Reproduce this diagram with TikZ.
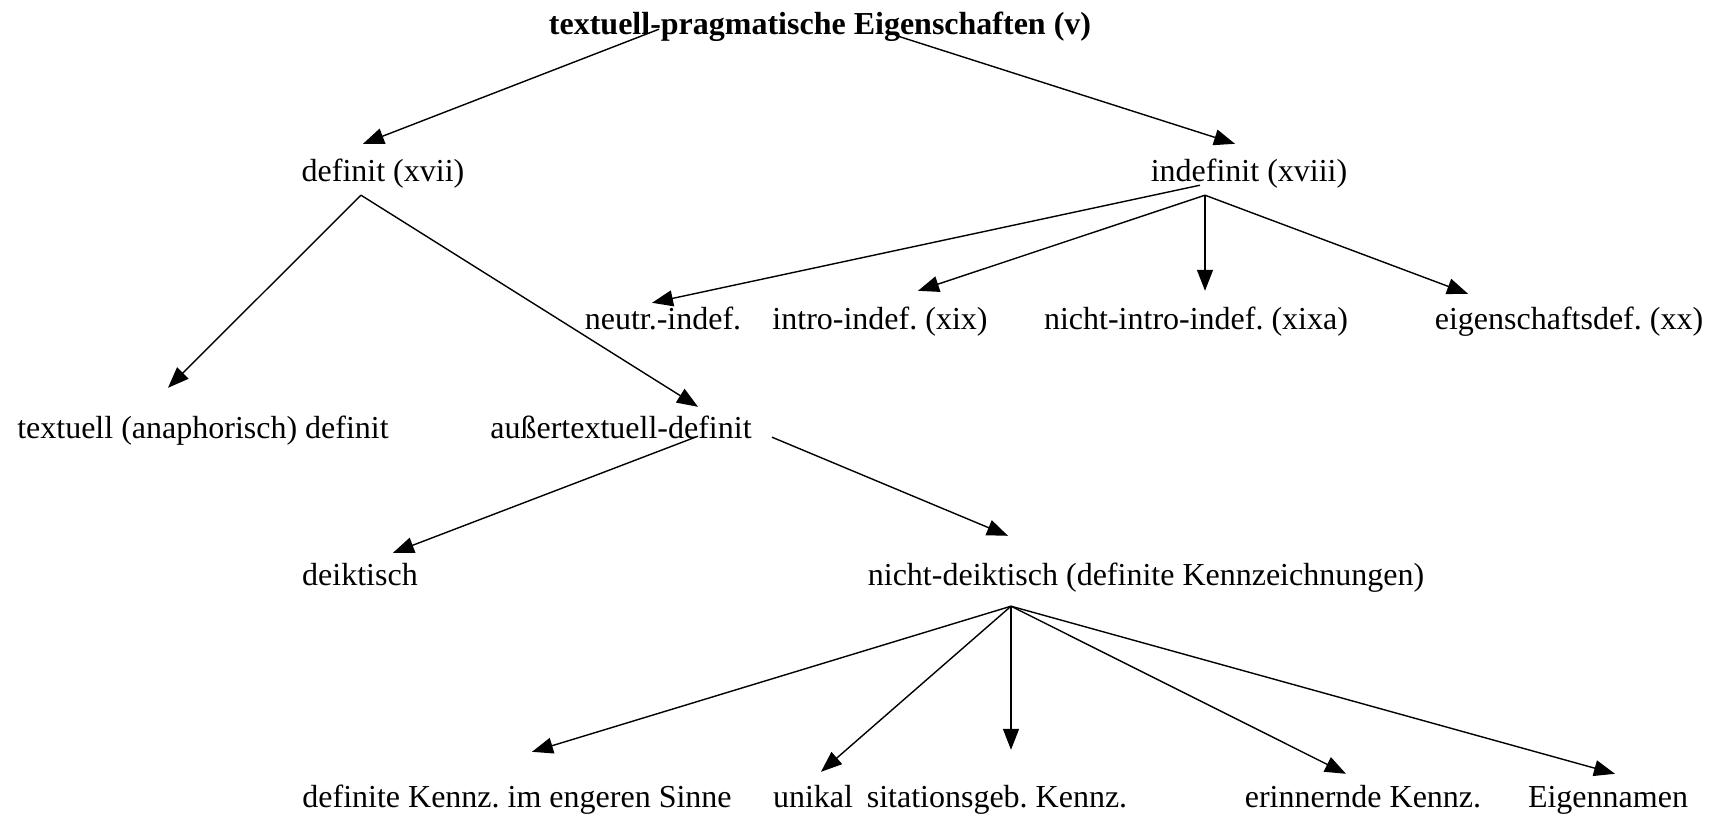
\documentclass[tikz,border=0pt]{standalone}
\usepackage{fontspec}
\setmainfont{Liberation Serif}
\usetikzlibrary{arrows.meta,calc}
\tikzset{
  lbl/.style={inner sep=0pt, anchor=base, text height=22pt, text depth=7pt, font=\fontsize{32}{38}\selectfont\frenchspacing},
  arr/.style={line width=1.4pt, -{Triangle[length=21pt,width=16pt]}}
}
\begin{document}
\begin{tikzpicture}[x=1pt,y=-1pt]
\useasboundingbox (0,0) rectangle (1722,816);
% levels
\node[lbl, font=\fontsize{32}{38}\selectfont\bfseries] (title) at (820,35) {textuell-pragmatische Eigenschaften (v)};
\node[lbl] (def) at (383,181) {definit (xvii)};
\node[lbl] (indef) at (1249,181) {indefinit (xviii)};
\node[lbl] (neutr) at (663,329) {neutr.-indef.};
\node[lbl] (intro) at (880,329) {intro-indef. (xix)};
\node[lbl] (nintro) at (1196,329) {nicht-intro-indef. (xixa)};
\node[lbl] (eigsch) at (1569,329) {eigenschaftsdef. (xx)};
\node[lbl] (textu) at (203,438) {textuell (anaphorisch) definit};
\node[lbl] (ausser) at (621,438) {außertextuell-definit};
\node[lbl] (deikt) at (360,585) {deiktisch};
\node[lbl] (ndeikt) at (1146,585) {nicht-deiktisch (definite Kennzeichnungen)};
\node[lbl] (engk) at (517,807) {definite Kennz. im engeren Sinne};
\node[lbl] (unik) at (813,807) {unikal};
\node[lbl] (sitk) at (997,807) {sitationsgeb. Kennz.};
\node[lbl] (erink) at (1363,807) {erinnernde Kennz.};
\node[lbl] (eign) at (1608,807) {Eigennamen};
% arrows
\draw[arr] ($(title.south)+(-161,-13)$) -- ($(def.north)+(-20,-15)$);
\draw[arr] ($(title.south)+(75,-7)$) -- ($(indef.north)+(-14,-15)$);
\draw[arr] ($(def.south)+(-22,7)$) -- ($(textu.north)+(-35,-28)$);
\draw[arr] ($(def.south)+(-22,7)$) -- ($(ausser.north)+(77,-9)$);
\draw[arr] ($(indef.south)+(-49,-3)$) -- ($(neutr.north)+(-11,-4)$);
\draw[arr] ($(indef.south)+(-44,7)$) -- ($(intro.north)+(38,-16)$);
\draw[arr] ($(indef.south)+(-44,7)$) -- ($(nintro.north)+(9,-16)$);
\draw[arr] ($(indef.south)+(-44,7)$) -- ($(eigsch.north)+(-101,-13)$);
\draw[arr] ($(ausser.south)+(77,-9)$) -- ($(deikt.north)+(33,-10)$);
\draw[arr] ($(ausser.south)+(151,-8)$) -- ($(ndeikt.north)+(-138,-27)$);
\draw[arr] ($(ndeikt.south)+(-135,14)$) -- ($(engk.north)+(15,-33)$);
\draw[arr] ($(ndeikt.south)+(-135,14)$) -- ($(unik.north)+(8,-13)$);
\draw[arr] ($(ndeikt.south)+(-135,14)$) -- ($(sitk.north)+(14,-35)$);
\draw[arr] ($(ndeikt.south)+(-135,14)$) -- ($(erink.north)+(-17,-11)$);
\draw[arr] ($(ndeikt.south)+(-135,14)$) -- ($(eign.north)+(7,-11)$);
\end{tikzpicture}
\end{document}
